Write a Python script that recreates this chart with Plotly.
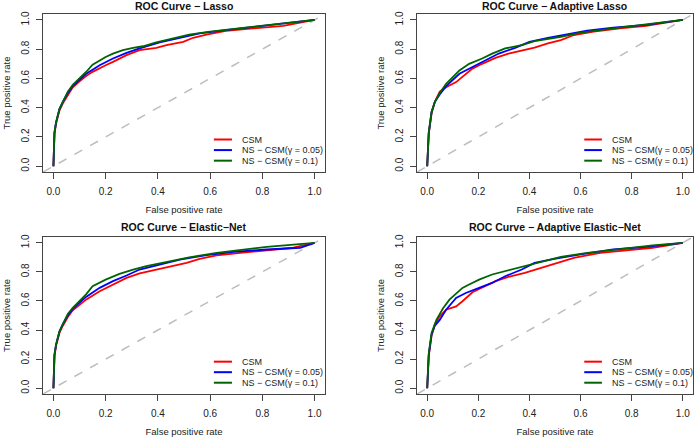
import plotly.graph_objects as go
from plotly.subplots import make_subplots

titles = ["ROC Curve \u2212 Lasso", "ROC Curve \u2212 Adaptive Lasso",
          "ROC Curve \u2212 Elastic\u2212Net", "ROC Curve \u2212 Adaptive Elastic\u2212Net"]
series_names = ["CSM", "NS \u2212 CSM(\u03b3 = 0.05)", "NS \u2212 CSM(\u03b3 = 0.1)"]
series_colors = ["#ff0000", "#0000ff", "#006400"]

# --- Lasso
lasso_csm_fpr = [0, 0.004, 0.01, 0.023, 0.036, 0.055, 0.074, 0.10, 0.125, 0.15, 0.177, 0.20, 0.228, 0.28, 0.33, 0.394, 0.433, 0.497, 0.535, 0.586, 0.66, 0.79, 0.88, 1.0]
lasso_csm_tpr = [0, 0.22, 0.29, 0.38, 0.43, 0.49, 0.54, 0.58, 0.616, 0.645, 0.671, 0.69, 0.713, 0.759, 0.793, 0.809, 0.828, 0.85, 0.878, 0.90, 0.926, 0.947, 0.96, 1.0]
lasso_ns05_fpr = [0, 0.004, 0.01, 0.023, 0.036, 0.055, 0.074, 0.10, 0.125, 0.15, 0.177, 0.228, 0.28, 0.33, 0.407, 0.484, 0.56, 0.66, 0.79, 0.89, 1.0]
lasso_ns05_tpr = [0, 0.23, 0.30, 0.39, 0.44, 0.50, 0.547, 0.59, 0.632, 0.66, 0.69, 0.736, 0.775, 0.805, 0.846, 0.878, 0.908, 0.93, 0.957, 0.977, 1.0]
lasso_ns10_fpr = [0, 0.004, 0.01, 0.023, 0.036, 0.055, 0.074, 0.10, 0.125, 0.15, 0.177, 0.20, 0.228, 0.266, 0.305, 0.343, 0.394, 0.458, 0.52, 0.60, 0.69, 0.79, 0.88, 1.0]
lasso_ns10_tpr = [0, 0.23, 0.30, 0.39, 0.44, 0.51, 0.556, 0.60, 0.644, 0.694, 0.724, 0.747, 0.77, 0.793, 0.809, 0.82, 0.846, 0.874, 0.90, 0.92, 0.938, 0.96, 0.977, 1.0]

# --- Adaptive Lasso
alasso_csm_fpr = [0, 0.006, 0.017, 0.03, 0.049, 0.074, 0.113, 0.138, 0.177, 0.215, 0.267, 0.318, 0.37, 0.42, 0.472, 0.523, 0.574, 0.651, 0.754, 0.856, 1.0]
alasso_csm_tpr = [0, 0.22, 0.36, 0.44, 0.51, 0.54, 0.575, 0.609, 0.667, 0.70, 0.74, 0.77, 0.793, 0.81, 0.839, 0.862, 0.897, 0.92, 0.943, 0.96, 1.0]
alasso_ns05_fpr = [0, 0.006, 0.017, 0.03, 0.049, 0.074, 0.126, 0.177, 0.228, 0.28, 0.344, 0.40, 0.472, 0.549, 0.626, 0.728, 0.856, 1.0]
alasso_ns05_tpr = [0, 0.23, 0.37, 0.44, 0.49, 0.547, 0.632, 0.678, 0.724, 0.77, 0.809, 0.85, 0.878, 0.90, 0.926, 0.947, 0.966, 1.0]
alasso_ns10_fpr = [0, 0.006, 0.017, 0.03, 0.049, 0.074, 0.10, 0.126, 0.164, 0.215, 0.254, 0.305, 0.37, 0.42, 0.523, 0.60, 0.728, 0.856, 1.0]
alasso_ns10_tpr = [0, 0.23, 0.37, 0.44, 0.50, 0.563, 0.609, 0.655, 0.70, 0.736, 0.77, 0.805, 0.828, 0.855, 0.885, 0.913, 0.943, 0.97, 1.0]

# --- Elastic-Net
enet_csm_fpr = [0, 0.004, 0.01, 0.023, 0.036, 0.055, 0.074, 0.125, 0.177, 0.228, 0.28, 0.33, 0.394, 0.458, 0.51, 0.56, 0.625, 0.715, 0.817, 0.919, 1.0]
enet_csm_tpr = [0, 0.22, 0.29, 0.38, 0.43, 0.49, 0.536, 0.609, 0.667, 0.713, 0.759, 0.789, 0.816, 0.839, 0.862, 0.89, 0.913, 0.931, 0.947, 0.966, 1.0]
enet_ns05_fpr = [0, 0.004, 0.01, 0.023, 0.036, 0.055, 0.074, 0.125, 0.177, 0.228, 0.28, 0.33, 0.407, 0.484, 0.586, 0.69, 0.817, 0.945, 1.0]
enet_ns05_tpr = [0, 0.23, 0.30, 0.39, 0.44, 0.50, 0.545, 0.628, 0.69, 0.736, 0.775, 0.816, 0.85, 0.885, 0.915, 0.938, 0.954, 0.966, 1.0]
enet_ns10_fpr = [0, 0.004, 0.01, 0.023, 0.036, 0.055, 0.074, 0.10, 0.125, 0.15, 0.20, 0.253, 0.305, 0.356, 0.433, 0.52, 0.625, 0.817, 1.0]
enet_ns10_tpr = [0, 0.23, 0.30, 0.39, 0.44, 0.51, 0.552, 0.60, 0.645, 0.701, 0.747, 0.786, 0.816, 0.839, 0.867, 0.90, 0.931, 0.972, 1.0]

# --- Adaptive Elastic-Net
aenet_csm_fpr = [0, 0.006, 0.017, 0.03, 0.049, 0.074, 0.113, 0.138, 0.177, 0.215, 0.267, 0.318, 0.382, 0.446, 0.51, 0.574, 0.677, 0.78, 0.882, 1.0]
aenet_csm_tpr = [0, 0.22, 0.36, 0.44, 0.494, 0.54, 0.563, 0.598, 0.66, 0.69, 0.736, 0.766, 0.793, 0.828, 0.862, 0.897, 0.931, 0.95, 0.966, 1.0]
aenet_ns05_fpr = [0, 0.006, 0.017, 0.03, 0.049, 0.074, 0.113, 0.151, 0.203, 0.254, 0.305, 0.37, 0.42, 0.497, 0.60, 0.728, 0.856, 1.0]
aenet_ns05_tpr = [0, 0.23, 0.37, 0.43, 0.47, 0.54, 0.621, 0.655, 0.69, 0.724, 0.77, 0.816, 0.862, 0.89, 0.92, 0.954, 0.972, 1.0]
aenet_ns10_fpr = [0, 0.006, 0.017, 0.036, 0.062, 0.087, 0.113, 0.138, 0.164, 0.203, 0.254, 0.305, 0.37, 0.446, 0.523, 0.626, 0.754, 0.882, 1.0]
aenet_ns10_tpr = [0, 0.24, 0.38, 0.47, 0.55, 0.609, 0.65, 0.69, 0.713, 0.747, 0.782, 0.805, 0.832, 0.867, 0.903, 0.931, 0.959, 0.982, 1.0]

panels = [
    [(lasso_csm_fpr, lasso_csm_tpr), (lasso_ns05_fpr, lasso_ns05_tpr), (lasso_ns10_fpr, lasso_ns10_tpr)],
    [(alasso_csm_fpr, alasso_csm_tpr), (alasso_ns05_fpr, alasso_ns05_tpr), (alasso_ns10_fpr, alasso_ns10_tpr)],
    [(enet_csm_fpr, enet_csm_tpr), (enet_ns05_fpr, enet_ns05_tpr), (enet_ns10_fpr, enet_ns10_tpr)],
    [(aenet_csm_fpr, aenet_csm_tpr), (aenet_ns05_fpr, aenet_ns05_tpr), (aenet_ns10_fpr, aenet_ns10_tpr)],
]

tick_vals = [0, 0.2, 0.4, 0.6, 0.8, 1.0]
tick_text = ["0.0", "0.2", "0.4", "0.6", "0.8", "1.0"]
axis_range = [-0.04, 1.04]

FONT = "Liberation Sans, Arial, Helvetica, sans-serif"

# box positions matched to the reference (paper fractions)
x_domains = [[0.0614, 0.4643], [0.5957, 0.990], [0.0614, 0.4643], [0.5957, 0.990]]
y_domains = [[0.609, 0.968], [0.609, 0.968], [0.1045, 0.4614], [0.1045, 0.4614]]
title_y = [0.986, 0.986, 0.484, 0.484]

fig = make_subplots(rows=2, cols=2)

for i, curves in enumerate(panels):
    r, c = i // 2 + 1, i % 2 + 1
    # chance diagonal (abline) across the whole box
    fig.add_trace(go.Scatter(x=axis_range, y=axis_range, mode="lines",
                             line=dict(color="#bdbdbd", width=1.5, dash="dash"),
                             showlegend=False, hoverinfo="skip"), row=r, col=c)
    for (fpr, tpr), name, col in zip(curves, series_names, series_colors):
        fig.add_trace(go.Scatter(x=fpr, y=tpr, mode="lines", name=name,
                                 line=dict(color=col, width=1.8),
                                 showlegend=False), row=r, col=c)

for i in range(4):
    sfx = "" if i == 0 else str(i + 1)
    fig.layout["xaxis" + sfx].update(
        domain=x_domains[i], range=axis_range, tickvals=tick_vals, ticktext=tick_text,
        showline=True, mirror=True, linecolor="#444", linewidth=1,
        ticks="outside", ticklen=6, tickcolor="#444", showgrid=False, zeroline=False,
        ticklabelstandoff=4, automargin=False,
        tickfont=dict(size=10, color="#222"),
        title=dict(text="False positive rate", font=dict(size=9.5, color="#222"), standoff=10))
    fig.layout["yaxis" + sfx].update(
        domain=y_domains[i], range=axis_range, tickvals=tick_vals, ticktext=tick_text,
        showline=True, mirror=True, linecolor="#444", linewidth=1,
        ticks="outside", ticklen=6, tickcolor="#444", showgrid=False, zeroline=False,
        ticklabelstandoff=3, automargin=False,
        tickangle=-90, tickfont=dict(size=10, color="#222"),
        title=dict(text="True positive rate", font=dict(size=9.5, color="#222"), standoff=7))

    xr = "x" + sfx + " domain"
    yr = "y" + sfx + " domain"
    # panel title
    fig.add_annotation(text="<b>" + titles[i] + "</b>", xref=xr, yref="paper", x=0.5, y=title_y[i],
                       showarrow=False, font=dict(size=10.5, color="#111"),
                       xanchor="center", yanchor="middle")
    # legend (bty = "n")
    for k, (name, col) in enumerate(zip(series_names, series_colors)):
        yy = 0.206 - k * 0.067
        fig.add_shape(type="line", xref=xr, yref=yr, x0=0.606, x1=0.67, y0=yy, y1=yy,
                      line=dict(color=col, width=2))
        fig.add_annotation(text=name, xref=xr, yref=yr, x=0.70, y=yy, showarrow=False,
                           xanchor="left", yanchor="middle", font=dict(size=9, color="#222"))

fig.update_layout(
    width=700, height=440, margin=dict(l=0, r=0, t=0, b=0),
    paper_bgcolor="white", plot_bgcolor="white",
    font=dict(family=FONT, color="#222"), showlegend=False,
)

# the page's default 8px body margin would shift the figure inside the 700x440 window
fig.write_html("out.html", config={"displayModeBar": False},
               post_script="document.body.style.margin='0px';")
